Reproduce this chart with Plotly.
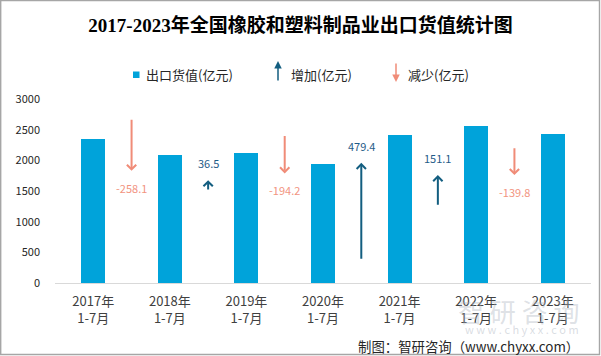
import plotly.graph_objects as go

# ---------------- data ----------------
categories = ["2017年<br>1-7月", "2018年<br>1-7月", "2019年<br>1-7月", "2020年<br>1-7月",
              "2021年<br>1-7月", "2022年<br>1-7月", "2023年<br>1-7月"]
export_values = [2348.1, 2090.0, 2126.5, 1932.3, 2411.7, 2562.8, 2423.0]
changes = [-258.1, 36.5, -194.2, 479.4, 151.1, -139.8]
# arrow series (start / end levels, in 亿元 axis units)
arrow_start = [2685, 1502, 2423, 371, 1253, 2221]
arrow_end = [1829, 1677, 1786, 1960, 1759, 1759]
y_ticks = [0, 500, 1000, 1500, 2000, 2500, 3000]

title_text = "2017-2023年全国橡胶和塑料制品业出口货值统计图"
legend_labels = ["出口货值(亿元)", "增加(亿元)", "减少(亿元)"]
source_text = "制图：智研咨询（www.chyxx.com）"

# ---------------- style ----------------
W, H = 601, 356
L, R, T, B = 55, 10, 99, 73
PW, PH = W - L - R, H - T - B
BAR = "#00A3DA"
UP = "#135E80"
DOWN = "#F08C78"
UP_TXT = "#1F5C88"
DOWN_TXT = "#F2947F"
CJK = "Microsoft YaHei, Noto Sans CJK SC, sans-serif"


def px(x):
    return (x - L) / PW


def py(y):
    return (H - B - y) / PH


idx = list(range(len(categories)))

fig = go.Figure()
fig.add_trace(go.Bar(x=idx, y=export_values, width=0.313, marker=dict(color=BAR, line=dict(width=0)),
                     showlegend=False, hoverinfo="skip"))

annotations = []
# watermark (drawn first, underneath)
annotations.append(dict(x=px(581), y=py(310), xref="paper", yref="paper", xanchor="right", yanchor="middle",
                        text="智 研 咨 询", showarrow=False,
                        font=dict(size=26, color="rgba(170,178,190,0.40)", family=CJK)))
annotations.append(dict(x=px(581), y=py(329), xref="paper", yref="paper", xanchor="right", yanchor="middle",
                        text="w w w . c h y x x . c o m", showarrow=False,
                        font=dict(size=11, color="rgba(170,178,190,0.45)", family=CJK)))

for i, (c, s, e) in enumerate(zip(changes, arrow_start, arrow_end)):
    col = UP if c > 0 else DOWN
    annotations.append(dict(x=i + 0.5, y=e, ax=i + 0.5, ay=s, xref="x", yref="y", axref="x", ayref="y",
                            showarrow=True, arrowhead=4, arrowsize=0.9, arrowwidth=2, arrowcolor=col,
                            text=""))
    annotations.append(dict(x=i + 0.5, y=e, xref="x", yref="y", showarrow=False,
                            text=f"{c:.1f}", yshift=17 if c > 0 else -17, yanchor="middle",
                            font=dict(size=11, color=UP_TXT if c > 0 else DOWN_TXT, family=CJK)))

# legend
legend_font = dict(size=13, color="#262626", family=CJK)
annotations.append(dict(x=px(144), y=py(74), xref="paper", yref="paper", xanchor="left", yanchor="middle",
                        text=legend_labels[0], showarrow=False, font=legend_font))
annotations.append(dict(x=px(289), y=py(74), xref="paper", yref="paper", xanchor="left", yanchor="middle",
                        text=legend_labels[1], showarrow=False, font=legend_font))
annotations.append(dict(x=px(406), y=py(74), xref="paper", yref="paper", xanchor="left", yanchor="middle",
                        text=legend_labels[2], showarrow=False, font=legend_font))
annotations.append(dict(x=px(278), y=py(61), xref="paper", yref="paper", ax=0, ay=21, showarrow=True,
                        arrowhead=2, arrowsize=1, arrowwidth=1.5, arrowcolor=UP, text=""))
annotations.append(dict(x=px(396), y=py(82), xref="paper", yref="paper", ax=0, ay=-20, showarrow=True,
                        arrowhead=2, arrowsize=1, arrowwidth=1.5, arrowcolor=DOWN, text=""))

# source
annotations.append(dict(x=px(581), y=py(345.5), xref="paper", yref="paper", xanchor="right", yanchor="middle",
                        text=source_text, showarrow=False, font=dict(size=13.4, color="#262626", family=CJK)))

shapes = [
    dict(type="rect", xref="paper", yref="paper", x0=px(133), x1=px(139.5), y0=py(71.5), y1=py(78),
         fillcolor=BAR, line=dict(width=0)),
    dict(type="rect", xref="paper", yref="paper", x0=px(0.7), x1=px(599.5), y0=py(0.5), y1=py(354.5),
         line=dict(color="#A6A6A6", width=1.4), fillcolor="rgba(0,0,0,0)", layer="above"),
]

fig.update_layout(
    width=W, height=H,
    margin=dict(l=L, r=R, t=T, b=B, pad=0),
    paper_bgcolor="white", plot_bgcolor="white",
    title=dict(text=title_text, x=0.5, xref="container", xanchor="center",
               y=1 - 25 / H, yref="container", yanchor="middle",
               font=dict(size=19, color="#000000", weight="bold",
                         family="Times New Roman, Liberation Serif, Noto Sans CJK SC")),
    xaxis=dict(range=[-0.5, len(categories) - 0.5], tickvals=idx, ticktext=categories,
               showgrid=False, zeroline=False, showline=True, linecolor="#D9D9D9", linewidth=1,
               ticks="", ticklabelstandoff=6, tickfont=dict(size=13, color="#404040", family=CJK),
               fixedrange=True),
    yaxis=dict(range=[0, 3000], tickvals=y_ticks, showgrid=False, zeroline=False, showline=False,
               ticks="", ticklabelstandoff=14, tickfont=dict(size=11, color="#262626", family=CJK),
               fixedrange=True),
    annotations=annotations,
    shapes=shapes,
    bargap=0.0,
    showlegend=False,
)

fig.write_html("out.html", config={"displayModeBar": False},
               post_script="document.body.style.margin='0';document.body.style.padding='0';"
                           "document.documentElement.style.overflow='hidden';")
